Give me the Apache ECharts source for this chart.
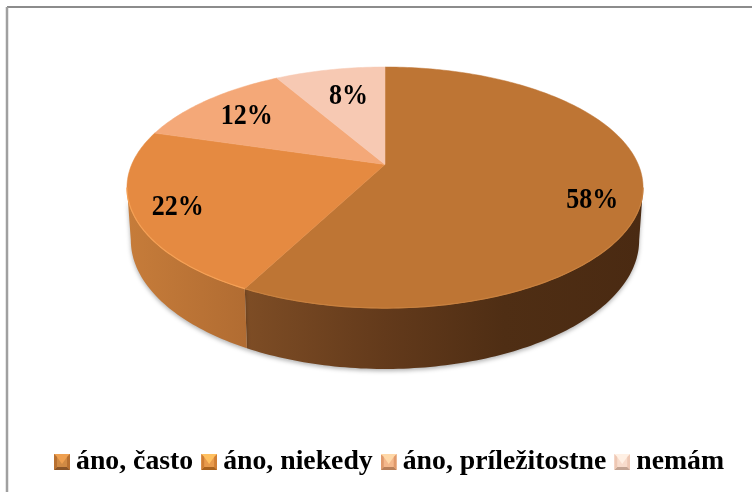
<!DOCTYPE html>
<html><head><meta charset="utf-8">
<style>html,body{margin:0;padding:0;background:#fff}#c{width:752px;height:492px}</style>
<script src="https://cdn.jsdelivr.net/npm/echarts@6/dist/echarts.min.js"></script>
</head><body><div id="c"></div>
<script>
const categories = ['áno, často', 'áno, niekedy', 'áno, príležitostne', 'nemám'];
const values = [57.6, 22.0, 12.1, 8.3];
const topColors = ['#BE7534', '#E58A41', '#F4A878', '#F7C9B3'];
const rimColors = ['#C8803E', '#F5A055', null, null];
const sideStops = [
  [[0, '#7E4D25'], [0.35, '#633A1B'], [0.65, '#4F2E14'], [1, '#4A2A12']],
  [[0, '#C67C3A'], [1, '#B16C32']],
  null, null
];
const iconColors = [
  ['#EFA050', '#8A5528', '#B87030', '#C27A38', '#D08A44'],
  ['#FFC060', '#A8621E', '#D07E34', '#E08C3C', '#E89A4C'],
  ['#FFD8A8', '#B8805A', '#E09A6C', '#EEA878', '#F4B88C'],
  ['#FFF0E4', '#C4A594', '#EEC8B4', '#F4D0BC', '#F8DCCC']
];
const labelNudge = [[3, 13], [-9, 4], [7, 5], [9, 10]];

// projection constants of the tilted disc
const CX = 385, APEX = 164.5, A = 84.7, K = -0.191, C = 253.3;
const ECY = 187.5, BOT_CY = 240, BOT_SY = 1.07, BOT_SX = 0.985;
const SIDE_FROM = 101, SIDE_TO = 259;

function proj(deg, r) {
  const t = deg * Math.PI / 180, u = Math.sin(t) * r, v = -Math.cos(t) * r, d = 1 + K * v;
  return [CX + C * u / d, (A * v + APEX) / d];
}
function projBottom(deg) {
  const p = proj(deg, 1);
  return [CX + (p[0] - CX) * BOT_SX, BOT_CY + (p[1] - ECY) * BOT_SY];
}
function arc(from, to, fn) {
  const pts = [], n = Math.max(2, Math.ceil(Math.abs(to - from)));
  for (let i = 0; i <= n; i++) pts.push(fn(from + (to - from) * i / n));
  return pts;
}
const total = values.reduce((s, x) => s + x, 0);
function startOf(i) {
  let s = 0;
  for (let j = 0; j < i; j++) s += values[j];
  return s / total * 360;
}
function icon(c) {
  const svg = `<svg xmlns="http://www.w3.org/2000/svg" width="16" height="16"><rect width="16" height="16" fill="${c[4]}"/>` +
    `<polygon points="0,0 16,0 13,3 3,3" fill="${c[0]}"/><polygon points="0,16 16,16 13,13 3,13" fill="${c[1]}"/>` +
    `<polygon points="0,0 0,16 3,13 3,3" fill="${c[2]}"/><polygon points="16,0 16,16 13,13 13,3" fill="${c[2]}"/>` +
    `<polygon points="3,3 13,3 8,10" fill="${c[0]}"/></svg>`;
  return 'image://data:image/svg+xml;charset=utf-8,' + encodeURIComponent(svg);
}
const FONT = '"Liberation Serif", serif';
const series = categories.map((name, i) => ({
  type: 'custom', name, coordinateSystem: 'none',
  data: [values[i]],
  itemStyle: { color: topColors[i] },
  silent: true,
  renderItem: (params, api) => {
    const val = api.value(0);
    const a0 = startOf(i), a1 = a0 + val / total * 360;
    const children = [];
    const s0 = Math.max(a0, SIDE_FROM), s1 = Math.min(a1, SIDE_TO);
    if (s1 > s0 && sideStops[i]) {
      const pts = arc(s0, s1, d => proj(d, 1)).concat(arc(s1, s0, projBottom));
      children.push({
        type: 'polygon', z2: 1,
        shape: { points: pts },
        style: {
          fill: new echarts.graphic.LinearGradient(0, 0, 1, 0,
            sideStops[i].map(s => ({ offset: s[0], color: s[1] }))),
          shadowBlur: 4, shadowColor: 'rgba(0,0,0,0.3)', shadowOffsetY: 2
        }
      });
    }
    const top = [[CX, APEX]].concat(arc(a0, a1, d => proj(d, 1)));
    children.push({ type: 'polygon', z2: 2, shape: { points: top }, style: { fill: topColors[i], stroke: topColors[i], lineWidth: 0.5 } });
    if (rimColors[i] && s1 > s0) {
      children.push({
        type: 'polyline', z2: 3,
        shape: { points: arc(s0, s1, d => proj(d, 1)) },
        style: { fill: 'none', stroke: rimColors[i], lineWidth: 1.2 }
      });
    }
    const mid = (a0 + a1) / 2, lp = proj(mid, 0.8);
    children.push({
      type: 'text', z2: 4,
      x: lp[0] + labelNudge[i][0], y: lp[1] + labelNudge[i][1],
      scaleY: 1.13,
      style: {
        text: Math.round(val) + '%', fill: '#000', font: 'bold 26px ' + FONT,
        align: 'center', verticalAlign: 'middle'
      }
    });
    return { type: 'group', children };
  }
}));
const chart = echarts.init(document.getElementById('c'), null, { renderer: 'canvas' });
chart.setOption({
  animation: false,
  backgroundColor: '#fff',
  graphic: [
    { type: 'line', shape: { x1: 7, y1: 7, x2: 752, y2: 7 }, style: { stroke: '#8C8C8C', lineWidth: 2 } },
    { type: 'line', shape: { x1: 7, y1: 7, x2: 7, y2: 492 }, style: { stroke: '#A0A0A0', lineWidth: 2.5 } }
  ],
  legend: {
    left: 54, top: 448, itemWidth: 16, itemHeight: 16, itemGap: 8, selectedMode: false,
    padding: [0, 0, 0, 0],
    textStyle: { fontFamily: FONT, fontWeight: 'bold', fontSize: 27.75, color: '#000', padding: [0, 0, 0, 1] },
    data: categories.map((name, i) => ({ name, icon: icon(iconColors[i]) }))
  },
  series
});
</script></body></html>
